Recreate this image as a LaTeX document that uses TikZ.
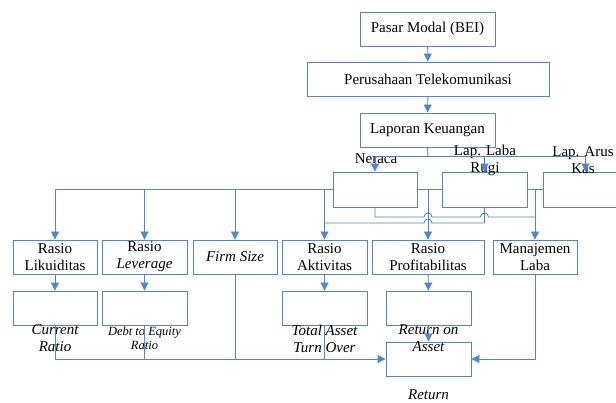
\documentclass[tikz,border=0pt]{standalone}
\usepackage{fontspec}
\setmainfont{Liberation Serif}
\usetikzlibrary{arrows.meta,calc}
\definecolor{garis}{RGB}{79,134,209}
\tikzset{
  kotak/.style={draw=garis, line width=0.9pt, minimum height=34pt, align=center,
    inner sep=1pt, font=\fontsize{15}{17}\selectfont},
  ket/.style={align=center, inner sep=0pt, font=\fontsize{15}{17}\selectfont},
  sambung/.style={draw=garis, line width=0.9pt},
  panah/.style={sambung, -{Triangle[width=8pt,length=8pt]}},
}
\begin{document}
\begin{tikzpicture}[x=1pt, y=-1pt]
  \clip (0,0) rectangle (616,403);
  % alur atas
  \node[kotak, minimum width=135pt] (pasar) at (427.5,29) {Pasar Modal (BEI)};
  \node[kotak, minimum width=242pt] (perusahaan) at (428,79) {Perusahaan Telekomunikasi};
  \node[kotak, minimum width=135pt] (laporan) at (427.5,130) {Laporan Keuangan};
  % tiga laporan
  \node[kotak, minimum width=84pt, minimum height=35pt] (neraca) at (375,189.5) {};
  \node[kotak, minimum width=85pt, minimum height=35pt] (labarugi) at (484.5,189.5) {};
  \node[kotak, minimum width=85pt, minimum height=35pt] (aruskas) at (585.5,189.5) {};
  \node[ket] (tneraca) at (376,159) {Neraca};
  \node[ket] (tlabarugi) at (485,160) {Lap. Laba\\Rugi};
  \node[ket] (taruskas) at (583,160) {Lap. Arus\\Kas};
  % rasio
  \node[kotak, minimum width=84pt] (lik) at (55,257) {Rasio\\Likuiditas};
  \node[kotak, minimum width=85pt] (lev) at (144.5,257) {Rasio\\\textit{Leverage}};
  \node[kotak, minimum width=84pt] (firm) at (235,257) {\textit{Firm Size}};
  \node[kotak, minimum width=85pt] (akt) at (324.5,257) {Rasio\\Aktivitas};
  \node[kotak, minimum width=112pt] (prof) at (428,257) {Rasio\\Profitabilitas};
  \node[kotak, minimum width=84pt] (manlab) at (535,257) {Manajemen\\Laba};
  % proksi
  \node[kotak, minimum width=84pt] (cr) at (55,308) {};
  \node[kotak, minimum width=85pt] (der) at (144.5,308) {};
  \node[kotak, minimum width=85pt] (tato) at (324.5,308) {};
  \node[kotak, minimum width=85pt] (roa) at (428.5,308) {};
  \node[kotak, minimum width=85pt] (ret) at (428.5,359) {};
  \node[ket, font=\fontsize{15}{17}\selectfont\itshape] (tcr) at (55,338.5) {Current\\Ratio};
  \node[ket, font=\fontsize{12.5}{14}\selectfont\itshape] (tder) at (144.5,338) {Debt to Equity\\Ratio};
  \node[ket, font=\fontsize{15}{17}\selectfont\itshape] (ttato) at (324.5,338.5) {Total Asset\\Turn Over};
  \node[ket, font=\fontsize{15}{17}\selectfont\itshape] (troa) at (428.5,338.5) {Return on\\Asset};
  \node[ket, font=\fontsize{15}{17}\selectfont\itshape] (tret) at (428.5,395) {Return};
  \coordinate (pecah) at (428,156);
  \coordinate (barisA) at (0,217);
  \coordinate (barisB) at (0,223);
  % panah atas
  \draw[panah] (pasar) -- (perusahaan);
  \draw[panah] (perusahaan) -- (laporan);
  \draw[sambung] (laporan.south) -- (pecah);
  \draw[panah] (pecah) -| (neraca.north);
  \draw[panah] (pecah) -| (labarugi.north);
  \draw[panah] (pecah) -| (aruskas.north);
  % dari neraca ke rasio
  \draw[sambung] (neraca.west) -- (lik.north |- neraca.west);
  \foreach \r in {lik,lev,firm,akt}
    \draw[panah] (\r.north |- neraca.west) -- (\r.north);
  \draw[sambung] (neraca.east) -- (labarugi.west);
  \draw[panah] (prof.north |- neraca.east) -- (prof.north);
  \draw[sambung] (labarugi.east) -- (aruskas.west);
  \draw[panah] (manlab.north |- labarugi.east) -- (manlab.north);
  % garis silang dengan lompatan
  \draw[sambung] (neraca.south) |- ($(prof.north |- barisA)+(-4,0)$)
    arc[start angle=180, end angle=360, radius=4]
    -- ($(labarugi.south |- barisA)+(-4,0)$)
    arc[start angle=180, end angle=360, radius=4]
    -- (manlab.north |- barisA);
  \draw[sambung] (labarugi.south) |- ($(prof.north |- barisB)+(4,0)$)
    arc[start angle=0, end angle=-180, radius=4]
    -- (akt.north |- barisB);
  % rasio ke proksi
  \foreach \a/\b in {lik/cr,lev/der,akt/tato,prof/roa,roa/ret}
    \draw[panah] (\a) -- (\b);
  % menuju return
  \draw[panah] (cr.south) |- (ret.west);
  \foreach \r in {der,firm,tato}
    \draw[sambung] (\r.south) -- (\r.south |- ret.west);
  \draw[panah] (manlab.south) |- (ret.east);
\end{tikzpicture}
\end{document}
